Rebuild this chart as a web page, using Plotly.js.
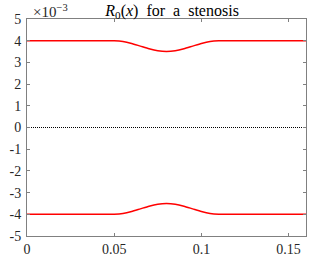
<!DOCTYPE html>
<html><head><meta charset="utf-8">
<script src="https://cdn.plot.ly/plotly-3.0.1.min.js"></script>
<style>html,body{margin:0;padding:0;background:#fff}</style>
</head><body><div id="chart" style="width:314px;height:260px"></div>
<script>
// (x in m, radius in m)
const xPts = [0, 0.02, 0.04, 0.05, 0.055, 0.06, 0.065, 0.07, 0.075, 0.08, 0.085, 0.09, 0.095, 0.10, 0.105, 0.11, 0.12, 0.14, 0.16];
const upper = [0.004, 0.004, 0.004, 0.004, 0.003967, 0.003875, 0.00375, 0.003625, 0.003533, 0.0035, 0.003533, 0.003625, 0.00375, 0.003875, 0.003967, 0.004, 0.004, 0.004, 0.004];
const lower = [-0.004, -0.004, -0.004, -0.004, -0.003967, -0.003875, -0.00375, -0.003625, -0.003533, -0.0035, -0.003533, -0.003625, -0.00375, -0.003875, -0.003967, -0.004, -0.004, -0.004, -0.004];
const axisX = [0, 0.16];
const axisY = [0, 0];
const xTickVals = [0, 0.05, 0.1, 0.15];
const xTickText = ['0', '0.05', '0.1', '0.15'];
const yTickVals = [-0.005, -0.004, -0.003, -0.002, -0.001, 0, 0.001, 0.002, 0.003, 0.004, 0.005];
const yTickText = ['-5', '-4', '-3', '-2', '-1', '0', '1', '2', '3', '4', '5'];

const serif = 'Liberation Serif, DejaVu Serif, serif';
const traces = [
  {x: xPts, y: upper, mode: 'lines', line: {color: '#ff0000', width: 1.5, shape: 'spline', smoothing: 0.6}, hoverinfo: 'skip'},
  {x: xPts, y: lower, mode: 'lines', line: {color: '#ff0000', width: 1.5, shape: 'spline', smoothing: 0.6}, hoverinfo: 'skip'},
  {x: axisX, y: axisY, mode: 'lines', line: {color: '#000000', width: 1, dash: '1px,1px'}, hoverinfo: 'skip'}
];
const axBase = {
  showgrid: false, zeroline: false, showline: true, linecolor: '#808080', linewidth: 1,
  mirror: 'ticks', ticks: 'inside', ticklen: 3, tickcolor: '#808080',
  tickfont: {family: serif, size: 14, color: '#262626'}, tickmode: 'array'
};
const layout = {
  width: 314, height: 260,
  margin: {l: 27, r: 8, t: 19, b: 24},
  paper_bgcolor: '#ffffff', plot_bgcolor: '#ffffff',
  showlegend: false,
  title: {text: '<i>R</i><sub>0</sub>(<i>x</i>)  for  a  stenosis', font: {family: serif, size: 16, color: '#000'}, x: 0.52, xanchor: 'center', xref: 'paper', yref: 'paper', y: 1, yanchor: 'bottom', pad: {b: 3}},
  xaxis: Object.assign({}, axBase, {range: [0, 0.16], tickvals: xTickVals, ticktext: xTickText}),
  yaxis: Object.assign({}, axBase, {range: [-0.005, 0.005], tickvals: yTickVals, ticktext: yTickText, ticklabelstandoff: 2}),
  annotations: [{text: '×10<sup>−3</sup>', xref: 'paper', yref: 'paper', x: 0, y: 1, xanchor: 'left', yanchor: 'bottom', xshift: 4, yshift: -3, showarrow: false, font: {family: serif, size: 15, color: '#262626'}}]
};
Plotly.newPlot('chart', traces, layout, {staticPlot: true, displayModeBar: false});
</script></body></html>
